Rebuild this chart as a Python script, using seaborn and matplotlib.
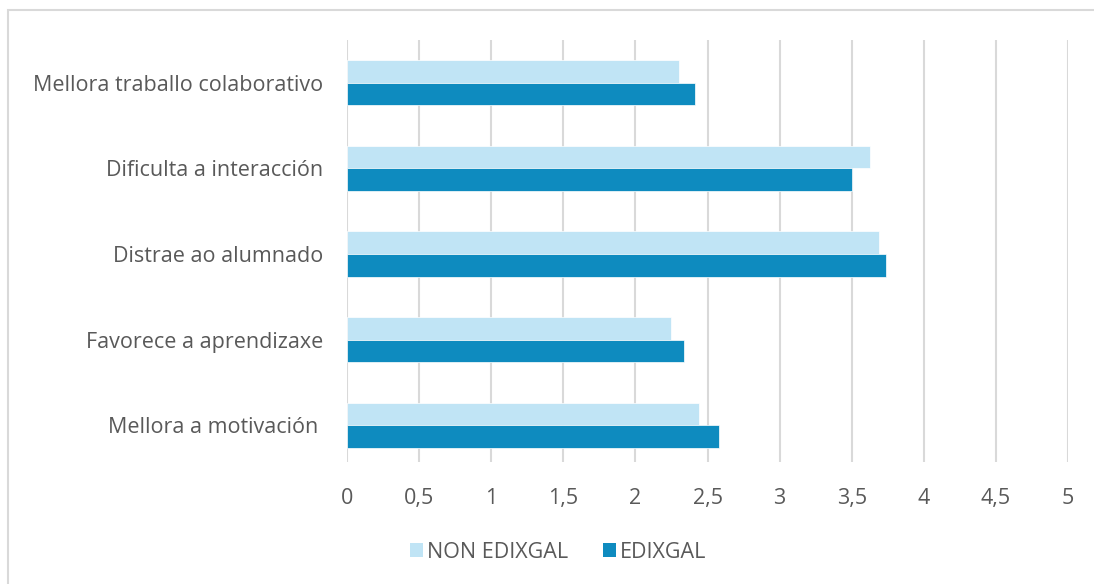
import matplotlib
matplotlib.use("Agg")
import matplotlib.pyplot as plt
import seaborn as sns
import pandas as pd
from matplotlib.patches import Rectangle

categories = ["Mellora traballo colaborativo", "Dificulta a interacción",
              "Distrae ao alumnado", "Favorece a aprendizaxe", "Mellora a motivación "]
non_edixgal = [2.30, 3.63, 3.69, 2.25, 2.44]
edixgal = [2.41, 3.50, 3.74, 2.34, 2.58]
series = ["NON EDIXGAL", "EDIXGAL"]
colors = ["#C0E4F5", "#0E8BBF"]
xticks = [0, 0.5, 1, 1.5, 2, 2.5, 3, 3.5, 4, 4.5, 5]
xticklabels = ["0", "0,5", "1", "1,5", "2", "2,5", "3", "3,5", "4", "4,5", "5"]

df = pd.DataFrame({
    "cat": categories * 2,
    "val": non_edixgal + edixgal,
    "serie": [series[0]] * len(categories) + [series[1]] * len(categories),
})

sns.set_theme(style="white")
plt.rcParams["font.family"] = ["Open Sans", "DejaVu Sans"]
text_color = "#595959"

fig = plt.figure(figsize=(10.94, 5.84), dpi=100)
ax = fig.add_axes([347 / 1094, 1 - 462 / 584, (1068 - 347) / 1094, (462 - 40) / 584])

sns.barplot(data=df, y="cat", x="val", hue="serie", order=categories,
            hue_order=series, palette=colors, orient="h", width=0.53,
            ax=ax, legend=False, saturation=1, edgecolor="white", linewidth=0.5)

ax.set_xlim(0, 5)
ax.set_ylim(4 + 0.43, -0.50)
ax.set_xticks(xticks)
ax.set_xticklabels(xticklabels)
ax.set_xlabel("")
ax.set_ylabel("")
ax.grid(axis="x", color="#D9D9D9", linewidth=1.5)
ax.grid(axis="y", visible=False)
ax.set_axisbelow(True)
for s in ax.spines.values():
    s.set_visible(False)
ax.tick_params(axis="x", length=0, pad=19, labelsize=15.5, labelcolor=text_color)
ax.tick_params(axis="y", length=0, pad=17, labelsize=15.5, labelcolor=text_color)

handles = [Rectangle((0, 0), 1, 1, facecolor=c, edgecolor="none") for c in colors]
fig.legend(handles, series, loc="center", bbox_to_anchor=(558 / 1094, 1 - 552 / 584),
           ncol=2, frameon=False, fontsize=15.5, labelcolor=text_color,
           handlelength=0.6, handleheight=0.6, handletextpad=0.2, columnspacing=1.6)

fig.patches.append(Rectangle((8 / 1094, -0.1), 1.2, 1 - 10 / 584 + 0.1,
                             transform=fig.transFigure, fill=False,
                             edgecolor="#D9D9D9", linewidth=1.5))

fig.savefig("out.png", dpi=100, facecolor="white")
